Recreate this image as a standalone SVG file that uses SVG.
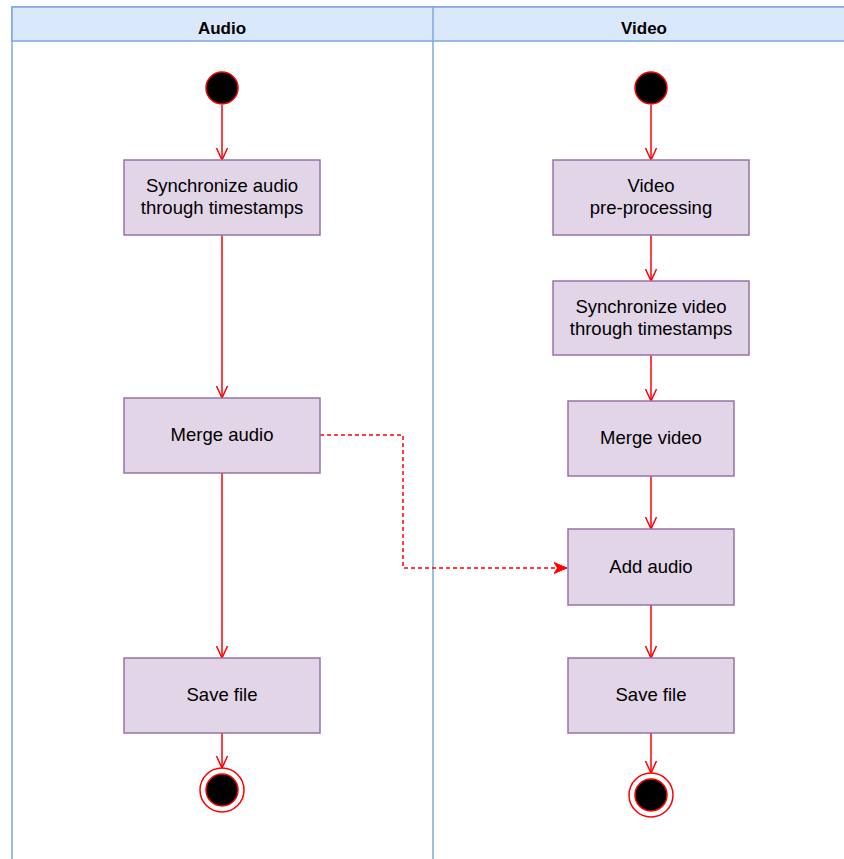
<svg xmlns="http://www.w3.org/2000/svg" width="844" height="859" viewBox="0 0 844 859">
<style>
.lane{fill:#ffffff;stroke:#7ea6e0;stroke-width:1.5}
.hdr{fill:#dae8fc;stroke:#7ea6e0;stroke-width:1.5}
.hdrtxt{font-family:"Liberation Sans",Arial,sans-serif;font-size:17px;font-weight:bold;fill:#000;text-anchor:middle}
.box{fill:#e1d5e7;stroke:#9673a6;stroke-width:1.5}
.txt{font-family:"Liberation Sans",Arial,sans-serif;font-size:18.5px;fill:#000;text-anchor:middle}
.start{fill:#000;stroke:#ff0000;stroke-width:1.5}
.endo{fill:#fff;stroke:#ff0000;stroke-width:1.5}
.edge{fill:none;stroke:#ff0000;stroke-width:1.5}
.dash{fill:none;stroke:#ff0000;stroke-width:1.5;stroke-dasharray:4 3}
</style>
<defs>
<marker id="open" viewBox="0 0 14 14" refX="13" refY="7" markerWidth="14" markerHeight="14" markerUnits="userSpaceOnUse" orient="auto">
<path d="M1,1.5 L13,7 L1,12.5" fill="none" stroke="#ff0000" stroke-width="1.5"/>
</marker>
<marker id="block" viewBox="0 0 14 14" refX="13" refY="7" markerWidth="14" markerHeight="14" markerUnits="userSpaceOnUse" orient="auto">
<path d="M0,1.5 L13,7 L0,12.5 L3.5,7 Z" fill="#ff0000" stroke="#ff0000" stroke-width="1"/>
</marker>
</defs>
<rect x="0" y="0" width="844" height="859" fill="#ffffff"/>
<g id="lanes">
<rect class="lane" x="12" y="7" width="840" height="860"/>
<rect class="hdr" x="12" y="7" width="840" height="34"/>
<line x1="433" y1="7" x2="433" y2="859" stroke="#7ea6e0" stroke-width="1.5"/>
<text class="hdrtxt" x="222" y="34">Audio</text>
<text class="hdrtxt" x="644" y="34">Video</text>
</g>
<g id="connectors">
<line class="edge" x1="222" y1="105" x2="222" y2="160" marker-end="url(#open)"/>
<line class="edge" x1="222" y1="235" x2="222" y2="398" marker-end="url(#open)"/>
<line class="edge" x1="222" y1="473" x2="222" y2="658" marker-end="url(#open)"/>
<line class="edge" x1="222" y1="733" x2="222" y2="768" marker-end="url(#open)"/>
<line class="edge" x1="651" y1="105" x2="651" y2="160" marker-end="url(#open)"/>
<line class="edge" x1="651" y1="235" x2="651" y2="281" marker-end="url(#open)"/>
<line class="edge" x1="651" y1="355" x2="651" y2="401" marker-end="url(#open)"/>
<line class="edge" x1="651" y1="476" x2="651" y2="529" marker-end="url(#open)"/>
<line class="edge" x1="651" y1="605" x2="651" y2="658" marker-end="url(#open)"/>
<line class="edge" x1="651" y1="733" x2="651" y2="773" marker-end="url(#open)"/>
<path class="dash" d="M320,435 L403,435 L403,568 L567,568" marker-end="url(#block)"/>
</g>
<g id="start-audio"><circle class="start" cx="222" cy="88" r="16"/></g>
<g id="sync-audio"><rect class="box" x="124" y="160" width="196" height="75"/><text class="txt" x="222" y="192">Synchronize audio</text><text class="txt" x="222" y="214">through timestamps</text></g>
<g id="merge-audio"><rect class="box" x="124" y="398" width="196" height="75"/><text class="txt" x="222" y="441">Merge audio</text></g>
<g id="save-audio"><rect class="box" x="124" y="658" width="196" height="75"/><text class="txt" x="222" y="701">Save file</text></g>
<g id="end-audio"><circle class="endo" cx="222" cy="790" r="22"/><circle class="start" cx="222" cy="790" r="16"/></g>
<g id="start-video"><circle class="start" cx="651" cy="88" r="16"/></g>
<g id="preproc-video"><rect class="box" x="553" y="160" width="196" height="75"/><text class="txt" x="651" y="192">Video</text><text class="txt" x="651" y="214">pre-processing</text></g>
<g id="sync-video"><rect class="box" x="553" y="281" width="196" height="74"/><text class="txt" x="651" y="313">Synchronize video</text><text class="txt" x="651" y="335">through timestamps</text></g>
<g id="merge-video"><rect class="box" x="568" y="401" width="166" height="75"/><text class="txt" x="651" y="444">Merge video</text></g>
<g id="add-audio"><rect class="box" x="568" y="529" width="166" height="76"/><text class="txt" x="651" y="573">Add audio</text></g>
<g id="save-video"><rect class="box" x="568" y="658" width="166" height="75"/><text class="txt" x="651" y="701">Save file</text></g>
<g id="end-video"><circle class="endo" cx="651" cy="795" r="22"/><circle class="start" cx="651" cy="795" r="16"/></g>
</svg>
